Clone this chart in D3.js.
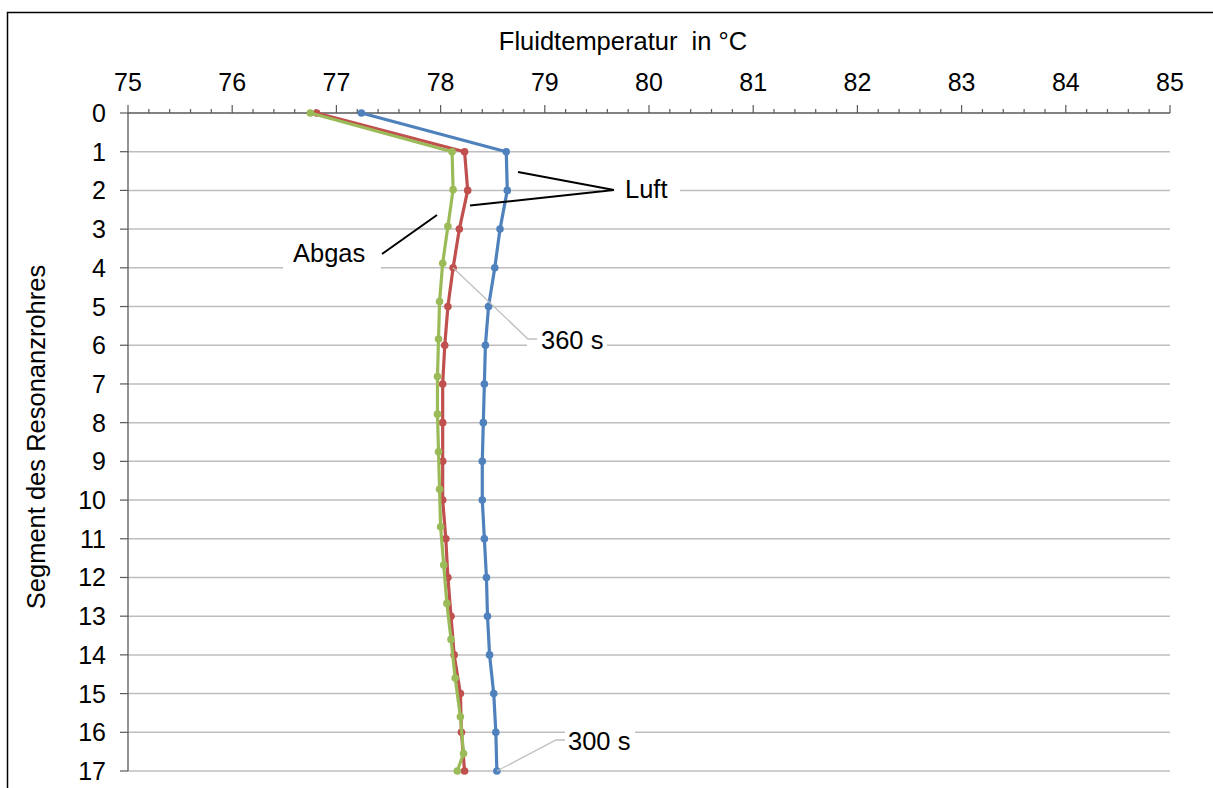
<!DOCTYPE html>
<html><head><meta charset="utf-8">
<script src="https://cdn.jsdelivr.net/npm/d3@7"></script>
<style>body{margin:0;background:#fff}svg{display:block}text{font-family:"Liberation Sans",Arial,sans-serif;fill:#000}</style>
</head><body>
<svg id="c" width="1213" height="788"></svg>
<script>
const segments = d3.range(0, 18);
const xTicks = [75,76,77,78,79,80,81,82,83,84,85];
const yTicks = d3.range(0, 18);
const blueX = [77.24,78.63,78.64,78.57,78.52,78.46,78.43,78.42,78.41,78.40,78.40,78.42,78.44,78.45,78.47,78.51,78.53,78.54];
const redX  = [76.81,78.23,78.26,78.18,78.12,78.07,78.04,78.02,78.02,78.02,78.02,78.05,78.07,78.10,78.13,78.19,78.20,78.23];
const greenY = [0,1,1.98,2.93,3.88,4.87,5.84,6.81,7.78,8.75,9.72,10.69,11.68,12.67,13.6,14.6,15.6,16.55,17];
const greenX = [76.75,78.11,78.12,78.07,78.02,77.99,77.98,77.97,77.97,77.98,77.99,78.00,78.03,78.06,78.10,78.14,78.19,78.22,78.16];
const series = [
  {name:"blau", color:"#4F81BD", pts: segments.map((s,i)=>[blueX[i], s])},
  {name:"rot", color:"#C0504D", pts: segments.map((s,i)=>[redX[i], s])},
  {name:"gruen", color:"#9BBB59", pts: greenY.map((s,i)=>[greenX[i], s])}
];

const svg = d3.select("#c");
svg.append("rect").attr("x",7.5).attr("y",12.5).attr("width",1300).attr("height",900)
  .attr("fill","none").attr("stroke","#000").attr("stroke-width",1.5);

const x = d3.scaleLinear().domain([75,85]).range([128,1170]);
const y = d3.scaleLinear().domain([0,17]).range([113,771]);

// gridlines
svg.append("g").selectAll("line").data(yTicks.slice(1)).join("line")
  .attr("x1",128).attr("x2",1170).attr("y1",d=>y(d)).attr("y2",d=>y(d))
  .attr("stroke","#BEBEBE").attr("stroke-width",1.5);

// white boxes behind labels (covering gridlines)
const boxes = [[283,252,98,28],[600,176,80,28],[527,328,80,28],[565,728,70,28]];
svg.append("g").selectAll("rect").data(boxes).join("rect")
  .attr("x",d=>d[0]).attr("y",d=>d[1]).attr("width",d=>d[2]).attr("height",d=>d[3]).attr("fill","#fff");

// x axis (top)
const minor = d3.range(75,85.001,0.2);
const gx = svg.append("g");
gx.append("line").attr("x1",128).attr("x2",1170).attr("y1",113).attr("y2",113).attr("stroke","#595959").attr("stroke-width",1.3);
gx.selectAll("line.mn").data(minor).join("line").attr("class","mn")
  .attr("x1",d=>x(d)).attr("x2",d=>x(d)).attr("y1",113)
  .attr("y2",d=>Math.abs(d-Math.round(d))<1e-6?105:109)
  .attr("stroke","#595959").attr("stroke-width",1.2);
gx.selectAll("text").data(xTicks).join("text")
  .attr("x",d=>x(d)).attr("y",91).attr("text-anchor","middle").style("font-size","25px").text(d=>d);
svg.append("text").attr("x",623).attr("y",50).attr("text-anchor","middle").style("font-size","25.5px")
  .attr("xml:space","preserve").text("Fluidtemperatur  in °C");

// y axis
const gy = svg.append("g");
gy.append("line").attr("x1",128).attr("x2",128).attr("y1",113).attr("y2",771).attr("stroke","#595959").attr("stroke-width",1.3);
gy.selectAll("line.t").data(yTicks).join("line").attr("class","t")
  .attr("x1",120).attr("x2",128).attr("y1",d=>y(d)).attr("y2",d=>y(d)).attr("stroke","#595959").attr("stroke-width",1.2);
gy.selectAll("text").data(yTicks).join("text")
  .attr("x",106).attr("y",d=>y(d)+9).attr("text-anchor","end").style("font-size","25px").text(d=>d);
svg.append("text").attr("transform","translate(45,437) rotate(-90)").attr("text-anchor","middle")
  .style("font-size","25.5px").text("Segment des Resonanzrohres");

// lines
const line = d3.line().x(d=>x(d[0])).y(d=>y(d[1]));
series.forEach(s=>{
  svg.append("path").datum(s.pts).attr("d",line).attr("fill","none").attr("stroke",s.color)
    .attr("stroke-width",3.2).attr("stroke-linejoin","round");
  svg.append("g").selectAll("circle").data(s.pts).join("circle")
    .attr("cx",d=>x(d[0])).attr("cy",d=>y(d[1])).attr("r",3.8).attr("fill",s.color);
});

// annotations
const blk = [[518,172,614,190],[470,205.5,614,190],[382,254,437,215]];
svg.append("g").selectAll("line").data(blk).join("line")
  .attr("x1",d=>d[0]).attr("y1",d=>d[1]).attr("x2",d=>d[2]).attr("y2",d=>d[3])
  .attr("stroke","#000").attr("stroke-width",2);
svg.append("polyline").attr("points",`${x(redX[4])},${y(4)} 528,339 537,339`).attr("fill","none").attr("stroke","#BFBFBF").attr("stroke-width",1.3);
svg.append("polyline").attr("points",`${x(blueX[17])},${y(17)} 556,740 565,740`).attr("fill","none").attr("stroke","#BFBFBF").attr("stroke-width",1.3);
const labels = [["Luft",625,198],["Abgas",293,262],["360 s",541,349],["300 s",568,750]];
svg.append("g").selectAll("text").data(labels).join("text")
  .attr("x",d=>d[1]).attr("y",d=>d[2]).style("font-size","25.5px").text(d=>d[0]);
</script>
</body></html>
